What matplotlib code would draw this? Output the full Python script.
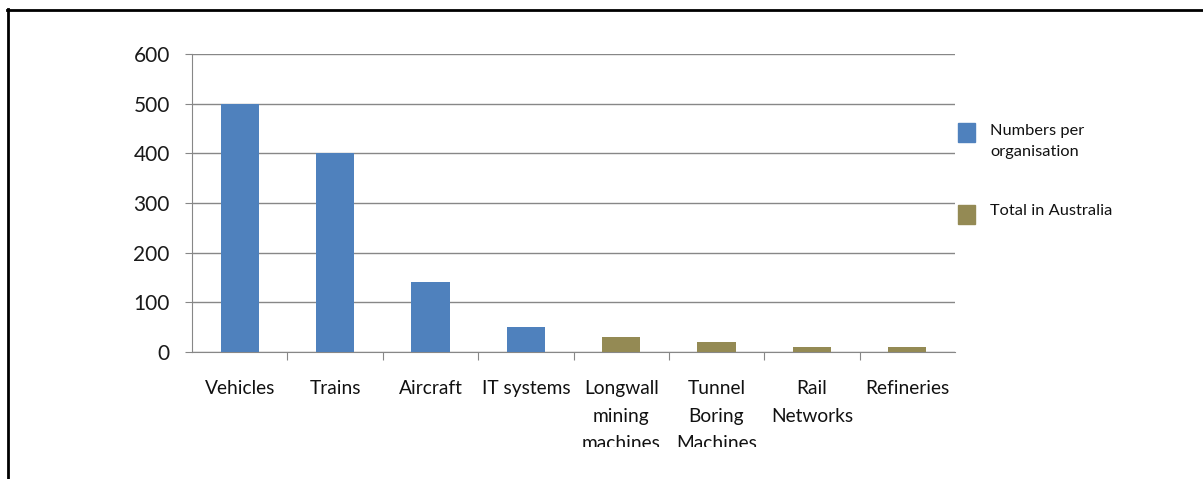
import matplotlib.pyplot as plt
from matplotlib.lines import Line2D
from matplotlib.transforms import Bbox, TransformedBbox

plt.rcParams['font.family'] = ['Lato', 'DejaVu Sans']

categories = ['Vehicles', 'Trains', 'Aircraft', 'IT systems',
              'Longwall\nmining\nmachines', 'Tunnel\nBoring\nMachines',
              'Rail\nNetworks', 'Refineries']
per_org = [500, 400, 140, 50, 0, 0, 0, 0]
total_aus = [0, 0, 0, 0, 30, 20, 10, 10]
series_names = ['Numbers per\norganisation', 'Total in Australia']
y_ticks = [0, 100, 200, 300, 400, 500, 600]

blue = '#4F81BD'
olive = '#948A54'
grid_col = '#878787'

W, H = 1203, 479
fig = plt.figure(figsize=(W / 100, H / 100), dpi=100)
ax = fig.add_axes([192 / W, 1 - 352 / H, (955 - 192) / W, (352 - 54) / H])

x = range(len(categories))
ax.bar(x, per_org, width=0.4, color=blue, zorder=3)
ax.bar(x, total_aus, width=0.4, bottom=per_org, color=olive, zorder=3)

ax.set_xlim(-0.5, len(categories) - 0.5)
ax.set_ylim(0, 600)
ax.set_yticks(y_ticks)
ax.tick_params(axis='y', labelsize=15, length=5, color=grid_col, pad=11,
               labelcolor='#1a1a1a')
ax.yaxis.grid(True, color=grid_col, linewidth=1)
ax.set_axisbelow(True)

# category boundary ticks below the axis
ax.set_xticks([i - 0.5 for i in range(1, len(categories))], minor=False)
ax.set_xticklabels([])
ax.tick_params(axis='x', which='major', length=6, color=grid_col)
ax.set_xticks(list(x), minor=True)
ax.set_xticklabels(categories, minor=True, fontsize=13.8, linespacing=1.72,
                   va='top', color='#111111')
ax.tick_params(axis='x', which='minor', length=0, pad=20.5)

for side in ['top', 'right']:
    ax.spines[side].set_visible(False)
for side in ['left', 'bottom']:
    ax.spines[side].set_color(grid_col)

# labels get cut off at the bottom, like the source image
clip = TransformedBbox(Bbox([[0, 32 / H], [1, 1]]), fig.transFigure)
for lbl in ax.get_xticklabels(minor=True):
    lbl.set_clip_box(clip)
    lbl.set_clip_on(True)

# legend drawn by hand on the right
legend_items = [(blue, 123, 142, 2), (olive, 205, 224, 0)]
for (col, y0, y1, dy), name in zip(legend_items, series_names):
    fig.patches.append(plt.Rectangle((958 / W, 1 - y1 / H), 17 / W, (y1 - y0) / H,
                                     transform=fig.transFigure, color=col))
    fig.text(990 / W, 1 - (y0 - 1 + dy) / H, name, fontsize=11.8, va='top',
             linespacing=1.6, color='#111111')

# outer frame (left and top edges visible)
fig.lines.append(Line2D([8 / W, 8 / W], [0, 1 - 9 / H], transform=fig.transFigure,
                        color='black', linewidth=2))
fig.lines.append(Line2D([7 / W, 1], [1 - 10 / H, 1 - 10 / H], transform=fig.transFigure,
                        color='black', linewidth=2))

fig.savefig('out.png', dpi=100)
